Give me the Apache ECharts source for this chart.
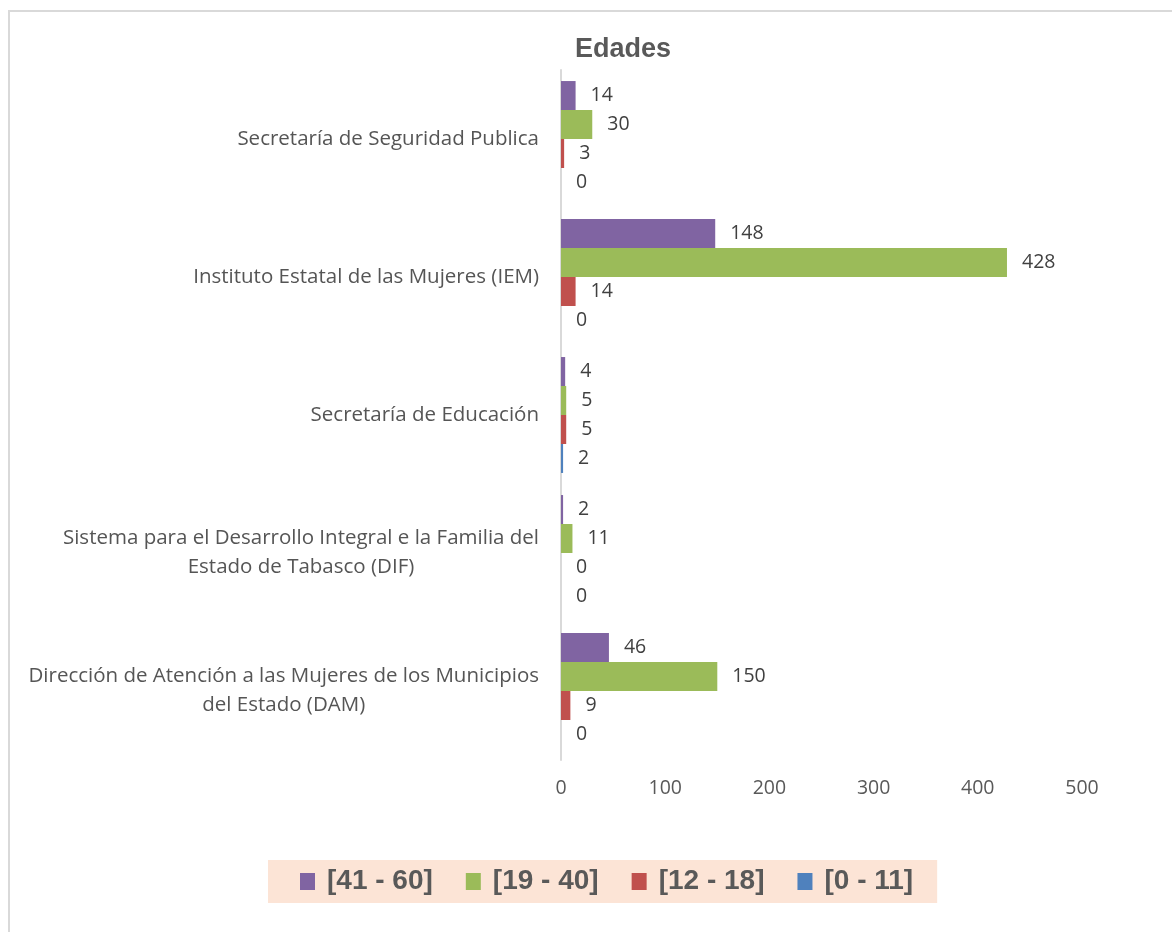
<!DOCTYPE html>
<html>
<head>
<meta charset="utf-8">
<script src="https://cdn.jsdelivr.net/npm/echarts@6/dist/echarts.min.js"></script>
<style>
  html, body { margin: 0; padding: 0; background: #fff; overflow: hidden; }
  #frame { position: absolute; left: 8px; top: 10px; width: 1180px; height: 940px;
           border: 2px solid #d9d9d9; box-sizing: border-box; }
  #chart { position: absolute; left: 0; top: 0; width: 1172px; height: 932px; }
</style>
</head>
<body>
<div id="frame"></div>
<div id="chart"></div>
<script>
// categories, top to bottom as drawn
var categories = [
    'Secretaría de Seguridad Publica',
    'Instituto Estatal de las Mujeres (IEM)',
    'Secretaría de Educación',
    'Sistema para el Desarrollo Integral e la Familia del\nEstado de Tabasco (DIF)',
    'Dirección de Atención a las Mujeres de los Municipios\ndel Estado (DAM)'
];
var seriesNames = ['[41 - 60]', '[19 - 40]', '[12 - 18]', '[0 - 11]'];
var age41to60 = [14, 148, 4, 2, 46];
var age19to40 = [30, 428, 5, 11, 150];
var age12to18 = [3, 14, 5, 0, 9];
var age0to11  = [0, 0, 2, 0, 0];
var xTicks = [0, 100, 200, 300, 400, 500];

var colors = ['#8064a2', '#9bbb59', '#c0504d', '#4f81bd'];
var font = 'Open Sans';
var boldFont = 'Liberation Sans';

var chart = echarts.init(document.getElementById('chart'));

function makeSeries(name, data, i){
    return {
        name: name,
        type: 'bar',
        data: data,
        barGap: '0%',
        barCategoryGap: '16%',
        itemStyle: { color: colors[i] },
        label: {
            show: true,
            position: 'right',
            distance: 15,
            color: '#404040',
            fontSize: 19.5,
            fontFamily: font
        }
    };
}

chart.setOption({
    animation: false,
    title: {
        text: 'Edades',
        left: 618,
        top: 31,
        textAlign: 'center',
        textStyle: { color: '#595959', fontSize: 27, fontWeight: 'bold', fontFamily: boldFont }
    },
    grid: { left: 561, right: 90, top: 70, bottom: 172, containLabel: false },
    xAxis: {
        type: 'value',
        min: xTicks[0],
        max: xTicks[xTicks.length - 1],
        interval: 100,
        axisLine: { show: false },
        axisTick: { show: false },
        splitLine: { show: false },
        axisLabel: { color: '#595959', fontSize: 19.5, fontFamily: font, margin: 18 }
    },
    yAxis: {
        type: 'category',
        inverse: true,
        data: categories,
        axisLine: { show: true, lineStyle: { color: '#d9d9d9', width: 2 } },
        axisTick: { show: false },
        axisLabel: {
            margin: 22,
            formatter: function(v){ return '{c|' + v + '}'; },
            rich: {
                c: { align: 'center', color: '#555555', fontSize: 20.5, lineHeight: 29, fontFamily: font }
            }
        }
    },
    legend: {
        data: seriesNames,
        left: 268,
        top: 860,
        backgroundColor: '#fce4d6',
        padding: [5, 24, 5, 32],
        itemGap: 33,
        itemWidth: 15,
        itemHeight: 17,
        icon: 'rect',
        textStyle: { color: '#595959', fontSize: 28, fontWeight: 'bold', fontFamily: boldFont,
                     lineHeight: 33, padding: [0, 0, 0, 7] }
    },
    series: [
        makeSeries(seriesNames[0], age41to60, 0),
        makeSeries(seriesNames[1], age19to40, 1),
        makeSeries(seriesNames[2], age12to18, 2),
        makeSeries(seriesNames[3], age0to11, 3)
    ]
});
</script>
</body>
</html>
